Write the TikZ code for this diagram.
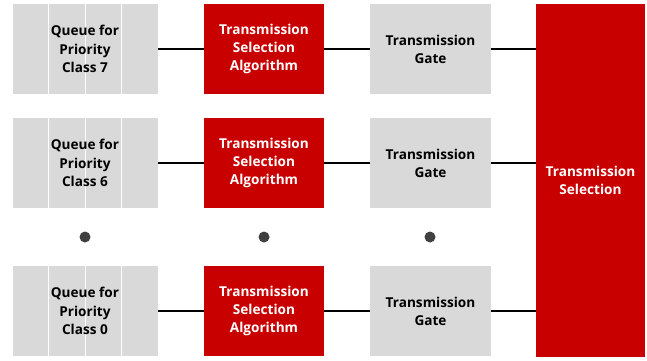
\documentclass[tikz,border=0pt]{standalone}
\usepackage{fontspec}
\setmainfont{Open Sans}
\definecolor{boxgray}{HTML}{D9D9D9}
\definecolor{boxred}{HTML}{C80000}
\definecolor{dotgray}{HTML}{404040}
\begin{document}
\begin{tikzpicture}[x=1pt,y=-1pt,
  lbl/.style={font=\bfseries\fontsize{13.6}{18.2}\selectfont,align=center,inner sep=0pt},
  graybox/.style={fill=boxgray,draw=none,minimum width=121pt,minimum height=90pt,inner sep=0pt,lbl},
  redbox/.style={fill=boxred,draw=none,text=white,minimum width=120pt,minimum height=90pt,inner sep=0pt,lbl},
  qbox/.style={minimum width=146pt,minimum height=90pt,inner sep=0pt,lbl},
  conn/.style={line width=1.3pt,black},
  dot/.style={circle,fill=dotgray,minimum size=11pt,inner sep=0pt}]
\useasboundingbox (0,0) rectangle (647,360);
% big transmission selection box
\node[fill=boxred,text=white,minimum width=109pt,minimum height=353pt,inner sep=0pt,lbl] (ts) at (590.5,180.5) {Transmission\\Selection};
\foreach \r/\yc/\cls in {a/49/7,b/163/6,c/311/0}{
  \foreach \i in {0,1,2,3}{
    \fill[boxgray] (12+\i*36.5+0.5,\yc-45) rectangle (12+\i*36.5+36,\yc+45);
  }
  \node[qbox] (q\r) at (85,\yc) {Queue for\\Priority\\Class \cls};
  \node[redbox] (t\r) at (264,\yc) {Transmission\\Selection\\Algorithm};
  \node[graybox] (g\r) at (430.5,\yc) {Transmission\\Gate};
  \draw[conn] (q\r.east) -- (t\r.west);
  \draw[conn] (t\r.east) -- (g\r.west);
  \draw[conn] (g\r.east) -- (g\r.east -| ts.west);
}
\node[dot] (d1) at (85,237) {};
\node[dot] (d2) at (264,237) {};
\node[dot] (d3) at (430,237) {};
\end{tikzpicture}
\end{document}
